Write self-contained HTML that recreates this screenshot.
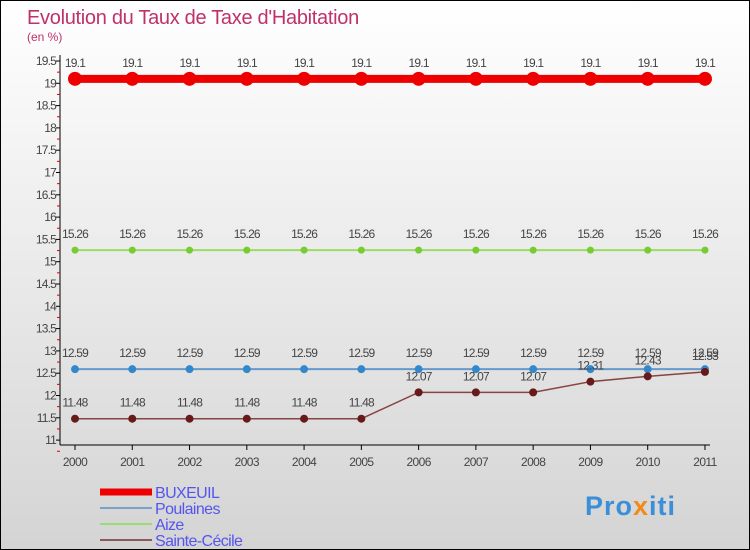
<!DOCTYPE html>
<html><head><meta charset="utf-8"><style>
body{margin:0;}
#c{width:750px;height:550px;position:relative;overflow:hidden;box-sizing:border-box;border:1px solid #000;background:linear-gradient(#ffffff,#d4d4d4);font-family:"Liberation Sans",sans-serif;}
</style></head><body>
<div id="c">
<svg id="s" width="750" height="550" xmlns="http://www.w3.org/2000/svg" style="position:absolute;left:-1px;top:-1px">
<text x="27" y="24" font-size="20" fill="#c0306a" letter-spacing="-0.3">Evolution du Taux de Taxe d'Habitation</text>
<text x="27" y="41" font-size="12" fill="#c0306a">(en %)</text>
<g id="axes"></g><g id="series"></g><g id="legend"></g>
<g font-size="27" font-weight="bold">
<text x="585" y="515" fill="#3a8fd8" letter-spacing="1">Pro<tspan fill="#f08a1a">x</tspan>iti</text>
</g>
</svg>
</div>
<script>
const years=[2000,2001,2002,2003,2004,2005,2006,2007,2008,2009,2010,2011];
const buxeuil=[19.1,19.1,19.1,19.1,19.1,19.1,19.1,19.1,19.1,19.1,19.1,19.1];
const poulaines=[12.59,12.59,12.59,12.59,12.59,12.59,12.59,12.59,12.59,12.59,12.59,12.59];
const aize=[15.26,15.26,15.26,15.26,15.26,15.26,15.26,15.26,15.26,15.26,15.26,15.26];
const sainteCecile=[11.48,11.48,11.48,11.48,11.48,11.48,12.07,12.07,12.07,12.31,12.43,12.53];
const yTicks=[11,11.5,12,12.5,13,13.5,14,14.5,15,15.5,16,16.5,17,17.5,18,18.5,19,19.5];
const NS="http://www.w3.org/2000/svg";
const X=i=>75+i*57.27, Y=v=>61+(19.5-v)*44.6;
function mk(t,a,p){const e=document.createElementNS(NS,t);for(const k in a)e.setAttribute(k,a[k]);p.appendChild(e);return e;}
const ax=document.getElementById('axes');
let l=mk('line',{x1:60,y1:55,x2:60,y2:445,stroke:'#000'},ax);

l=mk('line',{x1:60,y1:445,x2:710,y2:445,stroke:'#000'},ax);

yTicks.forEach(v=>{
 mk('line',{x1:56,y1:Y(v),x2:60,y2:Y(v),stroke:'#000'},ax);
 mk('line',{x1:57,y1:Y(v)+11.15,x2:60,y2:Y(v)+11.15,stroke:'#d00'},ax);
 const t=mk('text',{x:56,y:Y(v)+4,'text-anchor':'end','font-size':12,fill:'#444','letter-spacing':'-0.8'},ax);
 t.textContent=String(v);
 
});
years.forEach((y,i)=>{
 mk('line',{x1:X(i),y1:445,x2:X(i),y2:450,stroke:'#000'},ax);
 const t=mk('text',{x:X(i),y:466,'text-anchor':'middle','font-size':12,fill:'#444','letter-spacing':'-0.6'},ax);
 t.textContent=y;
 
});
const sg=document.getElementById('series');
function series(vals,color,w,r,dot,name){
 const g=mk('g',{},sg);
 
 mk('polyline',{points:vals.map((v,i)=>X(i)+','+Y(v)).join(' '),fill:'none',stroke:color,'stroke-width':w},g);
 vals.forEach((v,i)=>{
  const c=mk('circle',{cx:X(i),cy:Y(v),r:r,fill:dot},g);
  
  const t=mk('text',{x:X(i),y:Y(v)-12,'text-anchor':'middle','font-size':12,fill:'#444','letter-spacing':'-0.8'},g);
  t.textContent=String(v);
  
 });
}
series(aize,'#99dd66',2,3.5,'#77cc33','aize');
series(poulaines,'#6699cc',2,4,'#3388cc','poulaines');
series(sainteCecile,'#884444',1.5,4,'#661a1a','sainte-cecile');
series(buxeuil,'#ee0000',8,7,'#ee0000','buxeuil');
const lg=document.getElementById('legend');
[['BUXEUIL','#ee0000',7],['Poulaines','#7aa3c8',2],['Aize','#99dd77',2],['Sainte-Cécile','#8a5a5a',2]].forEach((d,i)=>{
 const y=492+i*16;
 const g=mk('g',{},lg);
 
 mk('line',{x1:100,y1:y,x2:152,y2:y,stroke:d[1],'stroke-width':d[2]},g);
 const t=mk('text',{x:155,y:y+6,'font-size':16,fill:'#5555ee','letter-spacing':'-0.6'},g);
 t.textContent=d[0];
});
</script>
</body></html>
